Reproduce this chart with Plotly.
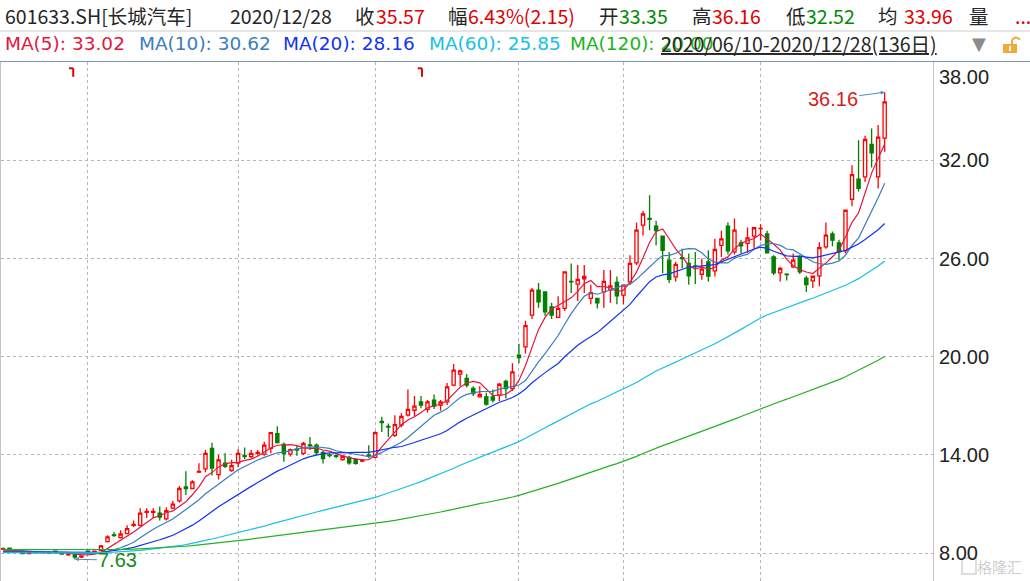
import plotly.graph_objects as go

# ---------------- data ----------------
# 136 trading days 2020/06/10 .. 2020/12/28, index 0..135
opens = [8.25, 8.30, 8.18, 8.12, 7.98, 8.06, 8.02, 8.05, 8.12, 8.03,
         7.90, 7.98, 7.76, 8.12, 8.05, 8.18, 8.70, 9.12, 8.95, 9.20,
         9.70, 9.70, 10.50, 10.50, 10.45, 10.10, 10.75, 11.20, 12.05, 11.95,
         12.95, 13.15, 14.40, 12.80, 13.50, 13.05, 13.50, 13.95, 13.90, 14.10,
         14.05, 14.40, 15.30, 14.64, 14.05, 14.35, 14.10, 14.62, 14.60, 14.15,
         14.00, 13.95, 13.72, 13.85, 13.72, 13.62, 14.00, 13.85, 16.05, 15.75,
         15.20, 15.82, 16.43, 16.73, 17.24, 16.78, 17.35, 17.04, 17.24, 18.26,
         18.94, 18.67, 18.06, 17.55, 17.55, 17.55, 17.65, 18.50, 18.06, 20.10,
         20.60, 22.54, 24.07, 23.96, 23.05, 22.40, 22.95, 24.60, 24.43, 24.76,
         23.56, 23.56, 23.96, 24.07, 24.54, 23.76, 24.57, 25.73, 28.04, 28.45,
         27.98, 27.37, 25.90, 24.88, 26.05, 25.70, 25.55, 25.04, 25.80, 25.25,
         26.80, 27.98, 26.40, 26.95, 26.92, 27.37, 27.82, 27.50, 26.10, 25.12,
         25.05, 25.49, 26.10, 24.80, 24.63, 24.94, 26.71, 27.50, 26.96, 26.47,
         29.62, 30.85, 30.99, 32.97, 30.99, 33.35]
highs = [8.35, 8.34, 8.22, 8.14, 8.08, 8.10, 8.08, 8.10, 8.14, 8.06,
         7.98, 8.00, 7.88, 8.15, 8.16, 8.50, 9.10, 9.30, 9.40, 9.70,
         10.00, 10.75, 10.75, 10.75, 10.85, 10.80, 11.20, 12.10, 13.00, 12.45,
         13.50, 14.30, 14.75, 14.00, 14.10, 13.70, 14.35, 14.45, 14.30, 14.30,
         14.80, 15.40, 15.76, 14.76, 14.40, 14.55, 14.80, 15.10, 14.70, 14.25,
         14.10, 14.05, 14.00, 13.95, 13.80, 13.75, 14.60, 15.45, 16.33, 15.92,
         16.43, 16.55, 18.00, 17.60, 17.60, 17.35, 17.70, 17.35, 18.40, 19.55,
         19.20, 18.94, 18.20, 18.20, 17.80, 18.00, 18.40, 18.60, 19.60, 20.80,
         22.20, 24.20, 24.50, 24.00, 23.30, 23.70, 25.20, 25.70, 25.60, 25.60,
         24.40, 23.56, 25.30, 25.30, 24.90, 24.37, 26.20, 28.20, 28.90, 29.87,
         28.30, 27.37, 26.40, 25.80, 26.60, 26.30, 26.40, 26.00, 26.50, 27.20,
         27.70, 28.20, 28.45, 27.15, 27.90, 27.90, 28.10, 27.70, 26.20, 25.50,
         25.10, 26.30, 26.20, 24.95, 24.80, 27.00, 28.20, 27.65, 27.15, 28.95,
         31.70, 33.23, 33.50, 33.94, 34.15, 36.16]
lows = [8.20, 8.22, 8.08, 7.96, 7.95, 7.98, 7.98, 7.97, 8.00, 7.92,
        7.85, 7.63, 7.70, 7.95, 8.00, 8.12, 8.65, 9.00, 8.90, 9.15,
        9.60, 9.65, 10.15, 10.15, 10.00, 10.00, 10.70, 11.10, 11.55, 11.90,
        12.90, 12.95, 12.75, 12.50, 13.20, 12.98, 13.25, 13.75, 13.80, 13.95,
        13.95, 14.10, 14.70, 13.58, 13.90, 13.95, 14.00, 14.30, 14.00, 13.48,
        13.85, 13.80, 13.65, 13.40, 13.40, 13.55, 13.80, 13.80, 15.40, 15.10,
        15.10, 15.70, 16.35, 16.37, 16.85, 16.60, 16.80, 16.70, 17.05, 18.20,
        18.20, 18.12, 17.60, 17.50, 17.00, 17.20, 17.30, 17.45, 17.90, 19.60,
        20.20, 22.30, 23.00, 22.50, 22.30, 22.35, 22.80, 23.90, 23.40, 23.90,
        23.20, 22.95, 23.00, 23.30, 23.20, 23.20, 24.40, 25.60, 27.40, 27.73,
        26.80, 25.10, 24.50, 24.60, 25.40, 24.40, 24.45, 24.70, 24.60, 24.90,
        26.10, 26.25, 26.25, 26.30, 26.35, 26.60, 27.10, 26.30, 25.00, 24.60,
        24.65, 25.40, 25.05, 23.95, 24.20, 24.30, 26.60, 26.75, 25.90, 26.30,
        29.20, 30.10, 30.68, 31.56, 30.28, 32.52]
closes = [8.28, 8.26, 8.12, 7.98, 8.06, 8.02, 8.05, 8.00, 8.03, 7.95,
          7.96, 7.76, 7.84, 8.00, 8.12, 8.45, 9.00, 9.08, 9.17, 9.50,
          9.75, 10.45, 10.55, 10.55, 10.20, 10.60, 11.00, 11.95, 11.95, 12.35,
          13.00, 14.10, 13.20, 13.70, 13.30, 13.35, 14.10, 13.90, 14.10, 14.15,
          14.60, 15.37, 14.75, 14.09, 14.33, 14.30, 14.70, 14.58, 14.15, 13.78,
          13.96, 13.92, 13.92, 13.52, 13.48, 13.66, 13.96, 15.37, 15.98, 15.70,
          15.85, 16.35, 16.78, 16.98, 17.04, 17.24, 16.98, 17.24, 18.16, 19.18,
          19.14, 18.26, 17.75, 17.70, 17.10, 17.35, 18.32, 18.06, 19.08, 19.95,
          21.90, 24.07, 23.35, 22.74, 22.54, 22.95, 25.18, 24.58, 24.72, 24.90,
          23.92, 23.29, 24.60, 24.33, 23.72, 24.37, 25.70, 27.73, 28.72, 28.40,
          27.70, 26.50, 24.72, 25.64, 26.00, 24.94, 25.50, 25.35, 24.92, 26.55,
          27.20, 26.47, 27.73, 26.77, 27.26, 27.88, 27.84, 26.35, 25.12, 25.39,
          25.02, 25.90, 25.18, 24.40, 24.92, 26.67, 27.43, 27.12, 26.41, 28.95,
          31.13, 30.28, 33.27, 32.45, 33.42, 35.57]

month_starts = [13, 36, 57, 79, 95, 116]      # first trading day of Jul..Dec
price_ticks = [8, 14, 20, 26, 32, 38]
price_tick_text = ["8.00", "14.00", "20.00", "26.00", "32.00", "38.00"]

ma_windows = [5, 10, 20, 60, 120]
ma_colors = ["#e3173e", "#3a7dbd", "#1033f5", "#16c1e2", "#22b322"]
# level of each moving average at the left edge of the chart (stands in for
# the closes before 2020/06/10, which are not shown)
ma_start_levels = [8.10, 8.08, 8.05, 8.02, 8.22]

low_idx, low_val = 11, 7.63
high_idx, high_val = 135, 36.16
event_marks = [10.6, 64]

# ---------------- helpers ----------------
W, H = 1030, 581
ML, MR, MT, MB = 1, 97, 62, 0
PW, PH = W - ML - MR, H - MT - MB


def px(X):
    return (X - ML) / PW


def py(Y):
    return (H - MB - Y) / PH


def moving_average(values, n, start_level):
    padded = [start_level] * (n - 1) + list(values)
    return [sum(padded[i:i + n]) / n for i in range(len(values))]


x = list(range(len(closes)))

fig = go.Figure()
fig.add_trace(go.Candlestick(
    x=x, open=opens, high=highs, low=lows, close=closes,
    increasing=dict(line=dict(color="#ff0000", width=1.3), fillcolor="#ffffff"),
    decreasing=dict(line=dict(color="#008000", width=1.3), fillcolor="#008000"),
    whiskerwidth=0, hoverinfo="skip", showlegend=False,
))
for n, col, lvl in zip(ma_windows, ma_colors, ma_start_levels):
    fig.add_trace(go.Scatter(
        x=x, y=moving_average(closes, n, lvl), mode="lines",
        line=dict(color=col, width=1.2), hoverinfo="skip", showlegend=False,
    ))

grid = "#b5b5b5"
fig.update_layout(
    width=W, height=H, margin=dict(l=ML, r=MR, t=MT, b=MB),
    paper_bgcolor="white", plot_bgcolor="white", showlegend=False,
    xaxis=dict(range=[-0.31, 142.4], rangeslider=dict(visible=False),
               tickvals=month_starts, showticklabels=False, ticks="",
               showgrid=True, gridcolor=grid, griddash="dot", gridwidth=1,
               zeroline=False, showline=False, fixedrange=True),
    yaxis=dict(range=[6.30, 38.005], side="right", tickvals=price_ticks,
               showticklabels=False, ticks="", showgrid=True, gridcolor=grid,
               griddash="dot", gridwidth=1, zeroline=False, showline=True,
               linecolor="#c4c4c4", linewidth=1, mirror=True, fixedrange=True),
    font=dict(family="Noto Sans CJK SC"),
)

ann = []
# price labels
for v, t in zip(price_ticks, price_tick_text):
    ann.append(dict(xref="paper", yref="y", x=1, y=v, xanchor="left", yanchor="middle",
                    xshift=4, yshift=-15 if v == 38 else 0, text=t, showarrow=False,
                    font=dict(family="Liberation Sans", size=20, color="#222222")))

dark, red, green = "#262626", "#e00000", "#008a00"
row1 = [(3, "601633.SH[长城汽车]", dark), (228, "2020/12/28", dark),
        (353, "收", dark), (373.5, "35.57", red),
        (446, "幅", dark), (466, "6.43%(2.15)", red),
        (597, "开", dark), (617, "33.35", green),
        (690, "高", dark), (710, "36.16", red),
        (784, "低", dark), (804, "32.52", green),
        (876, "均", dark), (902, "33.96", red),
        (967, "量", dark), (1013, "...", red)]
for X, t, c in row1:
    ann.append(dict(xref="paper", yref="paper", x=px(X), y=py(15), xanchor="left",
                    yanchor="middle", text=t, showarrow=False,
                    font=dict(family="Noto Sans CJK SC", size=19.5, color=c)))

ma_vals = ["33.02", "30.62", "28.16", "25.85", "20.00"]
row2_x = [3, 137, 281, 427, 568]
for X, n, v, c in zip(row2_x, ma_windows, ma_vals, ma_colors):
    ann.append(dict(xref="paper", yref="paper", x=px(X), y=py(44), xanchor="left",
                    yanchor="middle", text=f"MA({n}): {v}", showarrow=False,
                    font=dict(family="DejaVu Sans, Noto Sans CJK SC", size=18.5, color=c)))
ann.append(dict(xref="paper", yref="paper", x=px(659), y=py(44), xanchor="left",
                yanchor="middle", text="<u>2020/06/10-2020/12/28(136日)</u>", showarrow=False,
                font=dict(family="Noto Sans CJK SC", size=19.5, color=dark)))
ann.append(dict(xref="paper", yref="paper", x=px(979), y=py(44), xanchor="center",
                yanchor="middle", text="▼", showarrow=False,
                font=dict(family="DejaVu Sans", size=18, color="#8c8c8c")))

# extreme value call-outs
ann.append(dict(x=high_idx, y=high_val, xref="x", yref="y", text=f"{high_val:.2f}",
                showarrow=True, ax=-52, ay=7, arrowhead=2, arrowsize=0.8, arrowwidth=1,
                arrowcolor="#4a8fc0",
                font=dict(family="Liberation Sans", size=20, color="#d21e1e")))
ann.append(dict(x=low_idx, y=low_val, xref="x", yref="y", text=f"{low_val:.2f}",
                showarrow=True, ax=43, ay=1, arrowhead=2, arrowsize=0.8, arrowwidth=1,
                arrowcolor="#4a8fc0",
                font=dict(family="Liberation Sans", size=20, color="#138a13")))

# watermark
ann.append(dict(xref="paper", yref="paper", x=px(999), y=py(566), xanchor="center",
                yanchor="middle", text="格隆汇", showarrow=False,
                font=dict(family="Noto Sans CJK SC", size=15, color="#cfcfcf")))
fig.update_layout(annotations=ann)

shapes = [
    dict(type="line", xref="paper", yref="paper", x0=px(0), x1=px(W), y0=py(31), y1=py(31),
         line=dict(color="#cccccc", width=1)),
    dict(type="line", xref="paper", yref="paper", x0=px(0), x1=px(W), y0=py(61.5), y1=py(61.5),
         line=dict(color="#7d97b0", width=1)),
    # lock icon
    dict(type="rect", xref="paper", yref="paper", x0=px(1003), x1=px(1017), y0=py(53), y1=py(44),
         fillcolor="#f2a93b", line=dict(width=0)),
    dict(type="rect", xref="paper", yref="paper", x0=px(1009), x1=px(1011), y0=py(51), y1=py(46),
         fillcolor="#ffffff", line=dict(width=0)),
    dict(type="path", xref="paper", yref="paper",
         path=f"M {px(1012)} {py(44)} L {px(1012)} {py(40)} Q {px(1016)} {py(35)} {px(1020)} {py(40)}",
         line=dict(color="#f2a93b", width=2)),
    # watermark icon
    dict(type="rect", xref="paper", yref="paper", x0=px(962), x1=px(976), y0=py(574), y1=py(558),
         line=dict(color="#d4d4d4", width=1.5)),
]
for ex in event_marks:
    shapes.append(dict(type="line", xref="x", yref="y", x0=ex - 0.5, x1=ex + 0.15,
                       y0=37.62, y1=37.62, line=dict(color="#e00000", width=2)))
    shapes.append(dict(type="line", xref="x", yref="y", x0=ex + 0.15, x1=ex + 0.15,
                       y0=37.62, y1=37.1, line=dict(color="#e00000", width=2)))
fig.update_layout(shapes=shapes)

fig.write_html(
    "out.html",
    config={"displayModeBar": False, "staticPlot": True},
    post_script="document.body.style.margin='0';document.body.style.overflow='hidden';",
)
